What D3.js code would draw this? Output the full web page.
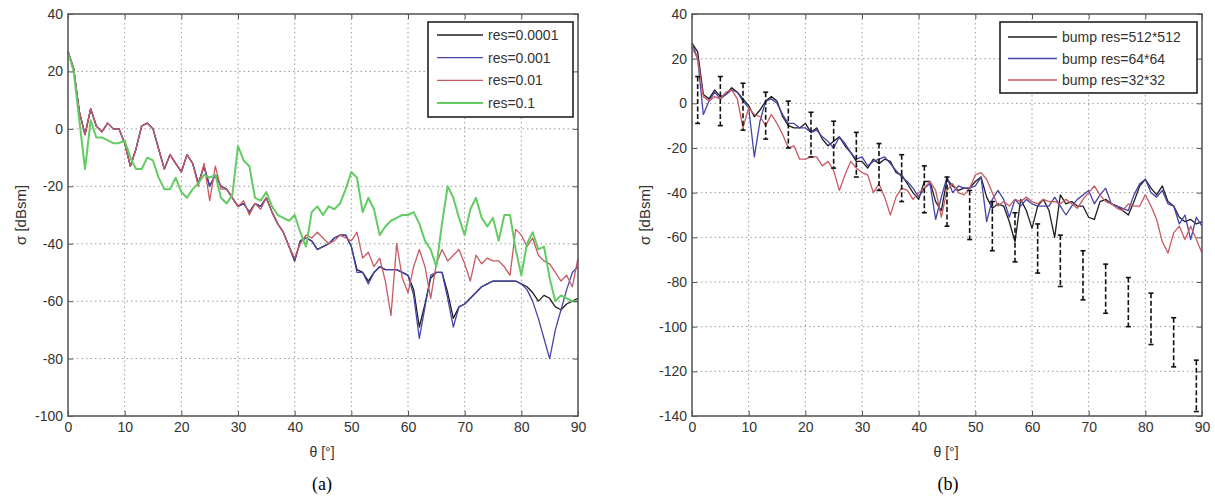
<!DOCTYPE html>
<html>
<head>
<meta charset="utf-8">
<script src="https://cdn.jsdelivr.net/npm/d3@7"></script>
<style>
  html, body { margin: 0; padding: 0; background: #fff; }
  svg { display: block; }
  .tick text { font-family: "Liberation Sans", Arial, sans-serif; font-size: 14px; fill: #333; }
</style>
</head>
<body>
<svg id="chart" width="1215" height="499"></svg>
<script>
// ---------- Data ----------
// Incidence angle, degrees
const angles = [0,1,2,3,4,5,6,7,8,9,10,11,12,13,14,15,16,17,18,19,20,21,22,23,24,25,26,27,28,29,30,
  31,32,33,34,35,36,37,38,39,40,41,42,43,44,45,46,47,48,49,50,51,52,53,54,55,56,57,58,59,60,
  61,62,63,64,65,66,67,68,69,70,71,72,73,74,75,76,77,78,79,80,81,82,83,84,85,86,87,88,89,90];

// (a) RCS for different resolution settings, dBsm
const resA_0001 = [27,21,6,-2,7,1,-1,2,0,0,-5,-13,-7,1,2,0,-7,-14,-9,-12,-15,-9,-12,-19,-13,-20,-16,-20,-21,-24,
  -27,-26,-29,-26,-27,-24,-29,-33,-36,-41,-46,-39,-38,-39,-42,-41,-40,-38,-37,-37,-41,-49,-50,-53,-50,-48,-49,-49,-49,-50,
  -51,-56,-69,-61,-52,-50,-50,-57,-66,-62,-61,-59,-57,-55,-54,-53,-53,-53,-53,-53,-54,-55,-57,-60,-58,-59,-62,-63,-61,-60,-59];
const resA_001 = [27,21,6,-2,7,1,-1,2,0,0,-5,-13,-7,1,2,0,-7,-14,-9,-12,-15,-9,-12,-19,-13,-20,-16,-20,-21,-24,
  -27,-26,-29,-26,-27,-24,-29,-33,-36,-41,-46,-39,-38,-39,-42,-41,-40,-38,-37,-37,-41,-50,-50,-54,-50,-48,-49,-49,-49,-50,
  -51,-58,-73,-62,-51,-50,-50,-59,-69,-62,-61,-59,-57,-55,-54,-53,-53,-53,-53,-53,-54,-56,-60,-66,-73,-80,-70,-63,-56,-50,-48];
const resA_01 = [27,21,6,-2,7,1,-1,2,0,0,-5,-13,-7,1,2,0,-7,-14,-9,-12,-15,-9,-12,-20,-12,-25,-13,-21,-21,-24,
  -27,-25,-30,-26,-28,-24,-29,-33,-36,-41,-45,-40,-37,-38,-36,-38,-40,-39,-37,-38,-39,-36,-45,-43,-48,-45,-53,-65,-40,-52,
  -57,-48,-42,-48,-59,-47,-42,-46,-44,-42,-47,-53,-44,-47,-45,-46,-46,-48,-51,-35,-37,-41,-38,-44,-46,-47,-50,-53,-51,-55,-45];
const resA_1 = [27,20,3,-14,3,-3,-3,-4,-5,-5,-4,-10,-14,-14,-10,-11,-17,-21,-21,-17,-22,-24,-21,-19,-16,-17,-16,-24,-26,-23,
  -6,-11,-13,-24,-25,-22,-27,-30,-31,-32,-30,-36,-41,-29,-27,-30,-27,-28,-26,-21,-15,-17,-29,-24,-28,-37,-34,-32,-31,-30,
  -30,-29,-33,-39,-42,-48,-33,-20,-24,-31,-37,-28,-24,-31,-34,-31,-39,-30,-30,-42,-51,-40,-36,-42,-41,-52,-60,-58,-59,-60,-60];

// (b) RCS of the bump for different mesh resolutions, dBsm
const bump512 = [27,23,4,2,6,3,4,7,5,2,-1,-6,-3,1,3,1,-6,-10,-11,-11,-9,-13,-11,-16,-19,-17,-15,-19,-22,-26,
  -26,-29,-25,-27,-25,-26,-31,-32,-36,-40,-43,-35,-35,-44,-48,-34,-37,-39,-38,-38,-35,-33,-42,-47,-45,-46,-53,-62,-43,-48,
  -56,-46,-43,-48,-60,-41,-45,-44,-46,-46,-51,-52,-44,-43,-45,-46,-48,-50,-44,-37,-34,-38,-41,-37,-44,-46,-51,-53,-52,-54,-53];
const bump64 = [27,20,-5,1,5,2,4,6,5,1,-2,-24,-8,1,2,0,-5,-9,-9,-11,-11,-13,-12,-15,-17,-20,-15,-18,-22,-25,
  -24,-28,-26,-25,-24,-27,-30,-33,-35,-38,-42,-38,-36,-52,-42,-33,-40,-37,-38,-38,-37,-33,-53,-43,-39,-43,-51,-43,-46,-43,
  -45,-46,-46,-46,-42,-46,-50,-46,-43,-41,-39,-45,-41,-38,-45,-46,-47,-48,-41,-36,-34,-40,-42,-39,-45,-46,-54,-50,-61,-51,-55];
const bump32 = [25,20,3,1,3,2,5,6,2,-11,-2,-5,-6,-10,-5,-9,-14,-20,-19,-25,-25,-24,-24,-28,-26,-30,-39,-32,-26,-29,
  -31,-32,-40,-36,-42,-50,-42,-38,-39,-43,-40,-38,-35,-39,-51,-39,-36,-40,-41,-38,-32,-31,-34,-40,-46,-44,-46,-43,-44,-42,
  -44,-45,-43,-44,-44,-45,-43,-45,-47,-43,-40,-37,-41,-44,-45,-47,-48,-45,-46,-46,-41,-46,-52,-62,-67,-58,-55,-61,-55,-61,-67];

// (b) reference intervals
const barAngles = [1,5,9,13,17,21,25,29,33,37,41,45,49,53,57,61,65,69,73,77,81,85,89];
const barLow  = [-9,-10,-12,-16,-20,-24,-29,-33,-39,-44,-49,-55,-61,-66,-71,-76,-82,-88,-94,-100,-108,-118,-138];
const barHigh = [12,12,9,5,1,-4,-8,-13,-18,-23,-28,-33,-39,-44,-49,-54,-59,-66,-72,-78,-85,-96,-115];

const xTicks = [0,10,20,30,40,50,60,70,80,90];
const yTicksA = [-100,-80,-60,-40,-20,0,20,40];
const yTicksB = [-140,-120,-100,-80,-60,-40,-20,0,20,40];

const seriesA = [
  {name: "res=0.0001", values: resA_0001, color: "#1e1e1e", width: 1.3},
  {name: "res=0.001",  values: resA_001,  color: "#4444aa", width: 1.3},
  {name: "res=0.01",   values: resA_01,   color: "#c85a64", width: 1.3},
  {name: "res=0.1",    values: resA_1,    color: "#62cc62", width: 2}
];
const seriesB = [
  {name: "bump res=512*512", values: bump512, color: "#1e1e1e", width: 1.3},
  {name: "bump res=64*64",   values: bump64,  color: "#4444aa", width: 1.3},
  {name: "bump res=32*32",   values: bump32,  color: "#c85a64", width: 1.3}
];

// ---------- Drawing ----------
const svg = d3.select("#chart");
const sans = '"Liberation Sans", Arial, sans-serif';
const serif = '"Liberation Serif", "Times New Roman", serif';

function panel(opt) {
  const x = d3.scaleLinear().domain([0, 90]).range([opt.left, opt.right]);
  const y = d3.scaleLinear().domain(opt.yDomain).range([opt.bottom, opt.top]);
  const g = svg.append("g");

  // dotted grid
  g.append("g").selectAll("line").data(xTicks.slice(1, -1)).join("line")
    .attr("x1", d => x(d)).attr("x2", d => x(d))
    .attr("y1", opt.top).attr("y2", opt.bottom)
    .attr("stroke", "#9a9a9a").attr("stroke-width", 1).attr("stroke-dasharray", "1.5,3");
  g.append("g").selectAll("line").data(opt.yTicks.slice(1, -1)).join("line")
    .attr("y1", d => y(d)).attr("y2", d => y(d))
    .attr("x1", opt.left).attr("x2", opt.right)
    .attr("stroke", "#9a9a9a").attr("stroke-width", 1).attr("stroke-dasharray", "1.5,3");

  // curves
  const line = d3.line().x((d, i) => x(angles[i])).y(d => y(d));
  opt.series.forEach(s => {
    g.append("path").datum(s.values)
      .attr("d", line).attr("fill", "none")
      .attr("stroke", s.color).attr("stroke-width", s.width)
      .attr("stroke-linejoin", "round");
  });

  // error bars
  if (opt.bars) {
    const eb = g.append("g").attr("stroke", "#111").attr("stroke-width", 1.6);
    barAngles.forEach((a, i) => {
      eb.append("line").attr("x1", x(a)).attr("x2", x(a))
        .attr("y1", y(barHigh[i])).attr("y2", y(barLow[i]))
        .attr("stroke-dasharray", "5,2.5");
      [barHigh[i], barLow[i]].forEach(v => {
        eb.append("line").attr("x1", x(a) - 2.5).attr("x2", x(a) + 2.5)
          .attr("y1", y(v)).attr("y2", y(v));
      });
    });
  }

  // axes with inward ticks on all four sides
  const axL = g.append("g").attr("transform", `translate(${opt.left},0)`)
    .call(d3.axisLeft(y).tickValues(opt.yTicks).tickSizeInner(-5).tickSizeOuter(0).tickPadding(5));
  const axB = g.append("g").attr("transform", `translate(0,${opt.bottom})`)
    .call(d3.axisBottom(x).tickValues(xTicks).tickSizeInner(-5).tickSizeOuter(0).tickPadding(6));
  const axR = g.append("g").attr("transform", `translate(${opt.right},0)`)
    .call(d3.axisRight(y).tickValues(opt.yTicks).tickSizeInner(-5).tickSizeOuter(0).tickFormat(""));
  const axT = g.append("g").attr("transform", `translate(0,${opt.top})`)
    .call(d3.axisTop(x).tickValues(xTicks).tickSizeInner(-5).tickSizeOuter(0).tickFormat(""));
  [axL, axB, axR, axT].forEach(a => {
    a.select(".domain").remove();
    a.selectAll(".tick line").attr("stroke", "#555").attr("stroke-width", 1);
  });
  axL.selectAll("text").text(d => d < 0 ? "-" + Math.abs(d) : d);

  // frame
  g.append("rect").attr("x", opt.left).attr("y", opt.top)
    .attr("width", opt.right - opt.left).attr("height", opt.bottom - opt.top)
    .attr("fill", "none").attr("stroke", "#5a5a5a").attr("stroke-width", 1.6);

  // axis titles
  g.append("text").attr("x", (opt.left + opt.right) / 2 - 1).attr("y", 457)
    .attr("text-anchor", "middle").attr("font-family", sans).attr("font-size", 14).attr("fill", "#333")
    .text("θ [°]");
  g.append("text")
    .attr("transform", `translate(${opt.left - 42},${(opt.top + opt.bottom) / 2}) rotate(-90)`)
    .attr("text-anchor", "middle").attr("font-family", sans).attr("font-size", 15).attr("fill", "#333")
    .text("σ [dBsm]");
  g.append("text").attr("x", opt.captionX).attr("y", 490)
    .attr("text-anchor", "middle").attr("font-family", serif).attr("font-size", 18).attr("fill", "#000")
    .text(opt.caption);

  // legend
  const L = opt.legend;
  const lg = g.append("g");
  lg.append("rect").attr("x", L.x).attr("y", L.y).attr("width", L.w).attr("height", L.h)
    .attr("fill", "#fff").attr("stroke", "#222").attr("stroke-width", 1.6);
  opt.series.forEach((s, i) => {
    const yy = L.y + L.first + i * L.step;
    lg.append("line").attr("x1", L.x + L.lx1).attr("x2", L.x + L.lx2)
      .attr("y1", yy).attr("y2", yy).attr("stroke", s.color).attr("stroke-width", s.width);
    lg.append("text").attr("x", L.x + L.tx).attr("y", yy + 5)
      .attr("font-family", sans).attr("font-size", 14).attr("fill", "#333").text(s.name);
  });
}

panel({
  left: 68, right: 578, top: 14, bottom: 416,
  yDomain: [-100, 40], yTicks: yTicksA, series: seriesA,
  caption: "(a)", captionX: 322,
  legend: {x: 428, y: 22, w: 145, h: 95, first: 13, step: 22.7, lx1: 9, lx2: 55, tx: 60}
});
panel({
  left: 692, right: 1202, top: 14, bottom: 416,
  yDomain: [-140, 40], yTicks: yTicksB, series: seriesB, bars: true,
  caption: "(b)", captionX: 948,
  legend: {x: 1000, y: 22, w: 197, h: 71, first: 15, step: 21.5, lx1: 8, lx2: 57, tx: 62}
});
</script>
</body>
</html>
